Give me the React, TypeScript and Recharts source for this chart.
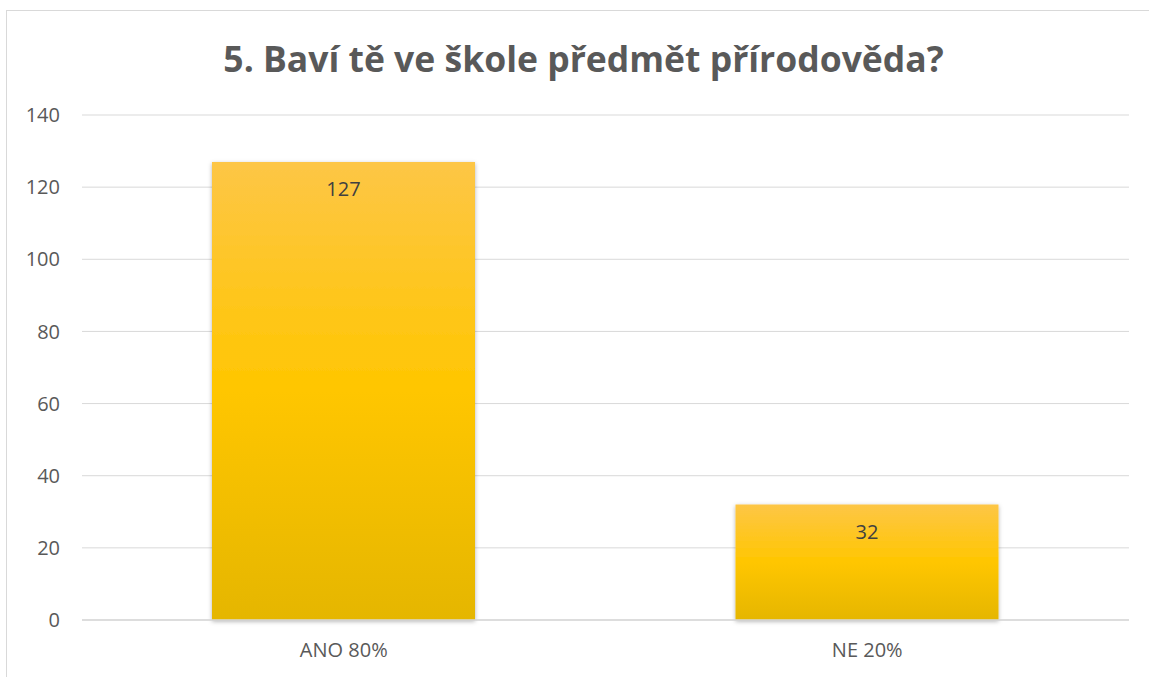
import React from "react";
import { BarChart, Bar, XAxis, YAxis, CartesianGrid, LabelList, Rectangle } from "recharts";

const categories = ["ANO 80%", "NE 20%"];
const values = [127, 32];
const yTicks = [0, 20, 40, 60, 80, 100, 120, 140];
const title = "5. Baví tě ve škole předmět přírodověda?";

const data = categories.map((c, i) => ({ name: c, value: values[i] }));

const FONT = "'Open Sans', 'Noto Sans', sans-serif";

const ShadowBar = (props: any) => {
  const { x, y, width, height } = props;
  return <Rectangle x={x} y={y} width={width} height={height} fill="url(#gold)" filter="url(#shadow)" />;
};

export default function App() {
  return (
    <div style={{ position: "absolute", left: 0, top: 0, width: 1149, height: 677, background: "#fff", overflow: "hidden", fontFamily: FONT }}>
      <div style={{ position: "absolute", left: 6, top: 10, width: 1200, height: 700, borderLeft: "1px solid #d9d9d9", borderTop: "1px solid #d9d9d9" }} />
      <svg width={1149} height={100} style={{ position: "absolute", left: 0, top: 0 }}>
        <text x={583.5} y={72} textAnchor="middle" fontFamily={FONT} fontWeight={700} fontSize={35.5} fill="#595959">
          {title}
        </text>
      </svg>
      <div style={{ position: "absolute", left: 0, top: 0 }}>
        <BarChart width={1149} height={677} data={data} margin={{ top: 115, right: 20, bottom: 17, left: 0 }}>
          <defs>
            <linearGradient id="gold" x1="0" y1="0" x2="0" y2="1">
              <stop offset="0%" stopColor="#FDC646" />
              <stop offset="50%" stopColor="#FFC600" />
              <stop offset="100%" stopColor="#E5B600" />
            </linearGradient>
            <filter id="shadow" x="-10%" y="-10%" width="120%" height="120%">
              <feDropShadow dx="0" dy="1.5" stdDeviation="2" floodColor="#000" floodOpacity="0.3" />
            </filter>
          </defs>
          <CartesianGrid vertical={false} stroke="#d9d9d9" strokeWidth={1} />
          <XAxis
            dataKey="name"
            axisLine={{ stroke: "#d9d9d9", strokeWidth: 1.5 }}
            tickLine={false}
            tickSize={0}
            tickMargin={23}
            height={40}
            tick={{ fill: "#595959", fontSize: 20, fontFamily: FONT }}
          />
          <YAxis
            domain={[0, 140]}
            ticks={yTicks}
            axisLine={false}
            tickLine={false}
            tickSize={0}
            tickMargin={22}
            width={82}
            tick={{ fill: "#595959", fontSize: 20, fontFamily: FONT }}
          />
          <Bar dataKey="value" fill="url(#gold)" barSize={263} isAnimationActive={false} shape={ShadowBar}>
            <LabelList dataKey="value" position="insideTop" offset={20} fill="#404040" fontSize={20} fontFamily={FONT} />
          </Bar>
        </BarChart>
      </div>
    </div>
  );
}
